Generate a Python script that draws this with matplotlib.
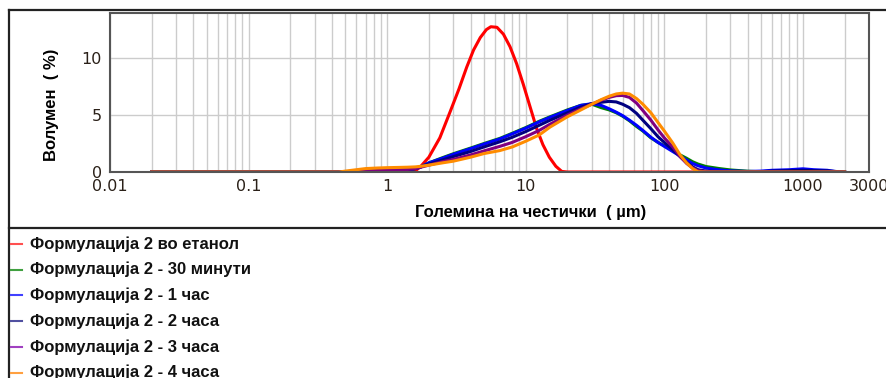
import numpy as np
import matplotlib
matplotlib.use("Agg")
from matplotlib import pyplot as plt
from matplotlib.lines import Line2D
from matplotlib.ticker import FixedLocator, NullFormatter

# particle size (um) for the ethanol sample
size_red = [0.02, 1.5, 1.6, 1.75, 2.0, 2.4, 2.85, 3.3, 3.75, 4.2, 4.7, 5.2, 5.6,
            6.2, 6.9, 7.7, 8.6, 9.6, 10.7, 12, 13.3, 14.8, 16.5, 18.2, 20, 170]
vol_red = [0, 0, 0.1, 0.5, 1.3, 3.0, 5.3, 7.3, 9.2, 10.7, 11.8, 12.5, 12.75,
           12.7, 12.1, 11.0, 9.5, 7.7, 5.8, 3.8, 2.4, 1.3, 0.5, 0.05, 0, 0]

# particle size (um) for the time series
sizes = [0.02, 0.45, 0.5, 0.6, 0.7, 0.85, 1.0, 1.2, 1.4, 1.6, 1.75, 2.0, 2.5, 3.0,
         4.0, 5.0, 6.5, 8.0, 10, 12.5, 15, 20, 25, 30, 35, 40, 45, 50, 56, 63, 70,
         80, 90, 100, 115, 130, 145, 160, 175, 200, 250, 300, 400, 500, 600, 800,
         1000, 1200, 1500, 1700, 2000]

vol_30min = [0, 0, 0, 0.03, 0.06, 0.1, 0.12, 0.15, 0.2, 0.3, 0.45, 0.8, 1.25, 1.6,
             2.1, 2.5, 2.95, 3.4, 3.9, 4.45, 4.85, 5.45, 5.85, 5.95, 5.65, 5.45, 5.2,
             4.9, 4.5, 4.0, 3.6, 3.0, 2.6, 2.3, 1.9, 1.5, 1.2, 0.9, 0.7, 0.48, 0.3,
             0.18, 0.07, 0.02, 0, 0, 0, 0, 0, 0, 0]
vol_1h = [0, 0, 0, 0.02, 0.05, 0.08, 0.1, 0.12, 0.18, 0.3, 0.45, 0.8, 1.2, 1.55,
          2.05, 2.45, 2.9, 3.35, 3.85, 4.4, 4.8, 5.4, 5.85, 6.0, 5.85, 5.55, 5.25,
          4.95, 4.55, 4.1, 3.65, 3.05, 2.6, 2.25, 1.8, 1.4, 1.05, 0.75, 0.55, 0.35,
          0.18, 0.1, 0.05, 0.08, 0.15, 0.2, 0.28, 0.2, 0.15, 0.05, 0]
vol_2h = [0, 0, 0, 0.02, 0.06, 0.1, 0.12, 0.15, 0.2, 0.3, 0.45, 0.7, 1.05, 1.35,
          1.8, 2.2, 2.65, 3.05, 3.55, 4.1, 4.55, 5.2, 5.7, 6.0, 6.12, 6.2, 6.15,
          5.95, 5.65, 5.15, 4.55, 3.8, 3.1, 2.6, 1.95, 1.35, 0.85, 0.45, 0.2, 0.08,
          0.03, 0.02, 0.02, 0.03, 0.08, 0.12, 0.15, 0.12, 0.1, 0.05, 0]
vol_3h = [0, 0, 0, 0.03, 0.08, 0.12, 0.15, 0.18, 0.22, 0.3, 0.42, 0.6, 0.9, 1.1,
          1.5, 1.85, 2.25, 2.6, 3.1, 3.65, 4.2, 5.0, 5.55, 5.95, 6.3, 6.55, 6.7,
          6.72, 6.55, 6.05, 5.4, 4.55, 3.7, 3.0, 2.2, 1.35, 0.75, 0.35, 0.12, 0.03,
          0, 0, 0, 0, 0, 0, 0, 0, 0, 0, 0]
vol_4h = [0, 0, 0.08, 0.2, 0.3, 0.35, 0.38, 0.4, 0.42, 0.45, 0.5, 0.6, 0.8, 0.95,
          1.3, 1.62, 1.88, 2.2, 2.7, 3.25, 3.95, 4.85, 5.45, 5.95, 6.35, 6.65, 6.85,
          6.92, 6.85, 6.45, 5.95, 5.2, 4.35, 3.6, 2.55, 1.5, 0.8, 0.3, 0.02, 0,
          0, 0, 0, 0, 0, 0, 0, 0, 0, 0, 0]

labels = ["Формулација 2 во етанол", "Формулација 2 - 30 минути",
          "Формулација 2 - 1 час", "Формулација 2 - 2 часа",
          "Формулација 2 - 3 часа", "Формулација 2 - 4 часа"]
colors = ["#ff0000", "#008000", "#0000ff", "#000080", "#800080", "#ff8c00"]
legend_colors = ["#ff5050", "#40a040", "#4040ff", "#5050a0", "#a040c0", "#ffa040"]

xticks = [0.01, 0.1, 1, 10, 100, 1000, 3000]
xtick_labels = ["0.01", "0.1", "1", "10", "100", "1000", "3000"]
yticks = [0, 5, 10]

fig = plt.figure(figsize=(8.87, 3.78), dpi=100)
ax = fig.add_axes([110/887, 1 - 172/378, (869 - 110)/887, (172 - 12.5)/378])

series = [(size_red, vol_red), (sizes, vol_30min), (sizes, vol_1h),
          (sizes, vol_2h), (sizes, vol_3h), (sizes, vol_4h)]
for (x, y), c in zip(series, colors):
    ax.plot(x, y, color=c, lw=2.2, solid_joinstyle="round")

ax.set_xscale("log")
ax.set_xlim(0.01, 3000)
ax.set_ylim(0, 14)

# grid at every minor decade step, like the instrument software
grid_x = [m * 10.0**k for k in range(-2, 4) for m in range(1, 10)]
grid_x = [g for g in grid_x if 0.01 < g < 3000]
ax.xaxis.set_major_locator(FixedLocator(xticks))
ax.xaxis.set_minor_locator(FixedLocator(grid_x))
ax.xaxis.set_minor_formatter(NullFormatter())
ax.set_xticklabels(xtick_labels)
ax.set_yticks(yticks)
ax.grid(True, which="both", axis="x", color="#cccccc", lw=1.0)
ax.grid(True, which="major", axis="y", color="#cccccc", lw=1.0)
ax.set_axisbelow(True)
ax.tick_params(which="both", length=0)
ax.tick_params(axis="x", pad=5, labelsize=11.5, labelcolor="#2a2018")
ax.tick_params(axis="y", pad=6, labelsize=11.5, labelcolor="#2a2018")
for s in ax.spines.values():
    s.set_color("#555555")
    s.set_linewidth(1.5)

ax.set_xlabel("Големина на честички  ( µm)", fontsize=12, fontweight="bold",
              family="Liberation Sans")
ax.set_ylabel("Волумен  ( %)", fontsize=12, fontweight="bold",
              family="Liberation Sans")
ax.xaxis.set_label_coords((531 - 110) / 759, (172 - 205) / 159.5)
ax.yaxis.set_label_coords((59 - 110) / 759, (172 - 105) / 159.5)

# frame of the report panel
border = dict(color="#222222", lw=1.6, transform=fig.transFigure)
fig.add_artist(Line2D([9/887, 9/887], [0, 1 - 10/378], **border))
fig.add_artist(Line2D([9/887, 1], [1 - 10/378, 1 - 10/378], **border))
fig.add_artist(Line2D([9/887, 1], [1 - 228/378, 1 - 228/378], **border))

# legend list below the chart
for i, (lab, c) in enumerate(zip(labels, legend_colors)):
    yy = 1 - (244 + i * 25.7) / 378
    fig.add_artist(Line2D([11/887, 22/887], [yy, yy], color=c, lw=1.5,
                          transform=fig.transFigure))
    fig.text(30/887, yy, lab, fontsize=12, fontweight="bold",
             family="Liberation Sans", va="center", ha="left", color="#111111")

fig.savefig("out.png", dpi=100)
